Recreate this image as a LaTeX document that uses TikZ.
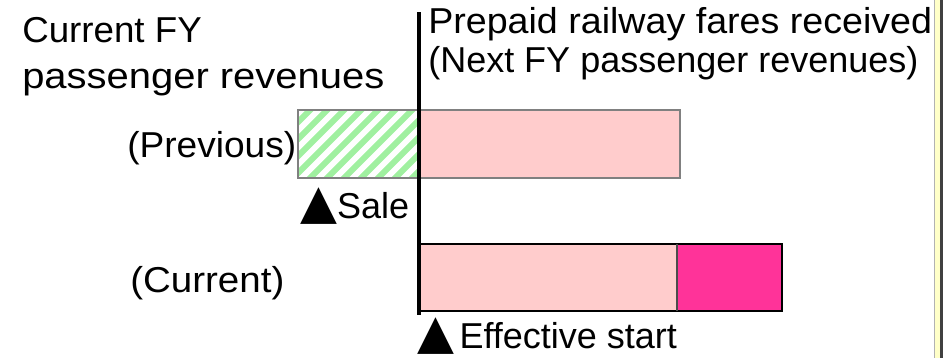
\documentclass[tikz,border=0pt]{standalone}
\usepackage{graphicx}
\usepackage{fontspec}
\setmainfont{Liberation Sans}
\newfontfamily\symfont{DejaVu Sans}
\usetikzlibrary{positioning}
\definecolor{farepink}{HTML}{FFCCCC}
\definecolor{faremagenta}{HTML}{FF3399}
\definecolor{hatchgreen}{HTML}{A0F0A0}
\definecolor{edgeyellow}{HTML}{FFFFC8}
\newcommand{\uptri}{{\symfont\fontsize{36}{36}\selectfont ▲}}
% text stretched sideways a little
\newcommand{\wide}[2]{\scalebox{#1}[1]{#2}}

\begin{document}
\begin{tikzpicture}
  [x=0.75pt,y=-0.75pt,
  lbl/.style={
    inner sep=0pt,
    anchor=base west,
    font=\fontsize{27}{32}\selectfont},
  prevbar/.style={draw=black!50, line width=2pt},
  curbar/.style={draw=black, line width=1.5pt}]
\useasboundingbox (0,0) rectangle (943,358);
% strip at the right edge
\fill[edgeyellow] (934,0) rectangle (940,358);
\draw[black!30, line width=0.5pt] (934,0) -- (934,358);
\fill[black!75] (940,0) rectangle (943,358);
% previous FY bar: green hatch before the cut, pink after
\begin{scope}
  \clip (298,110) rectangle (419,178);
  \foreach \i in {-85,-68,...,140}
    \draw[hatchgreen, line width=4.5pt] (298+\i,190) -- (388+\i,100);
\end{scope}
\fill[farepink] (419,110) rectangle (680,178);
\draw[prevbar] (298,110) rectangle (680,178);
% current FY bar
\fill[farepink] (419,244) rectangle (677,311);
\fill[faremagenta] (677,244) rectangle (782,311);
\draw[curbar] (419,244) rectangle (782,311);
\draw[black!70, line width=1pt] (677,244) -- (677,311);
% fiscal year boundary
\coordinate (cuttop) at (419,12);
\coordinate (cutbot) at (419,315);
\draw[line width=3pt] (cuttop) -- (cutbot);
% labels
\node (curfy) [lbl] at (22,42) {\wide{1.02}{Current FY}};
\node (curpass) [lbl] at (22,88) {\wide{1.11}{passenger revenues}};
\node (prepaid) [lbl] at (428,33) {\wide{1.045}{Prepaid railway fares received}};
\node (nextfy) [lbl] at (428,72) {(Next FY passenger revenues)};
\node (prev) [lbl] at (127,157) {\wide{1.03}{(Previous)}};
\node (sale) [lbl] at (300,218) {\uptri Sale};
\node (cur) [lbl] at (130,292) {\wide{1.07}{(Current)}};
\node (effstart) [lbl] at (417,348) {\uptri\kern4pt Effective start};
\end{tikzpicture}
\end{document}
